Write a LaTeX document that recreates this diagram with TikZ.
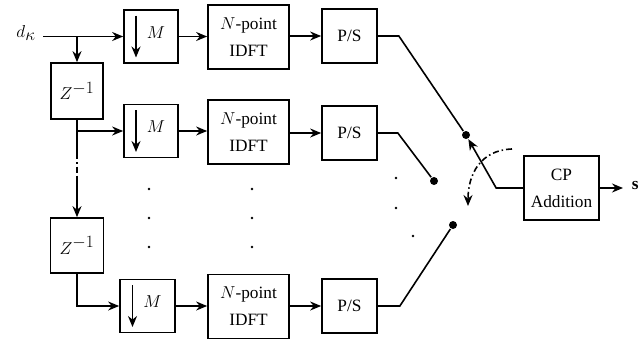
\documentclass[tikz,border=0pt]{standalone}
\usepackage{fontspec}
\setmainfont{Liberation Serif}
\DeclareMathSizes{17.28}{17.28}{17.28}{14.4}
\usetikzlibrary{arrows.meta,calc}
\begin{document}
\begin{tikzpicture}[x=1pt,y=-1pt,
 every node/.style={font=\fontsize{17.28}{27}\selectfont},
 blk/.style={draw,line width=1.7pt,inner sep=0pt,align=center},
 arr/.style={-{Stealth[length=11pt,width=9pt]}},
 sw/.style={circle,fill,inner sep=0pt,minimum size=8pt},
 vdot/.style={circle,fill,inner sep=0pt,minimum size=2.8pt},
 dashdot/.style={dash pattern=on 6pt off 3pt on 1.5pt off 3pt},
 line width=1.6pt]
\useasboundingbox (0,0) rectangle (644,341);
% boxes
\node[blk,minimum width=54,minimum height=53] (m1) at (151,36.5) {};
\node[blk,minimum width=54,minimum height=53] (m2) at (151,131) {};
\node[blk,minimum width=55,minimum height=53] (m3) at (147.5,306) {};
\node[blk,minimum width=81,minimum height=64] (idft1) at (248.5,37) {$N$-point\\IDFT};
\node[blk,minimum width=81,minimum height=64] (idft2) at (248.5,132) {$N$-point\\IDFT};
\node[blk,minimum width=81,minimum height=64] (idft3) at (248.5,306.5) {$N$-point\\IDFT};
\node[blk,minimum width=55,minimum height=54] (ps1) at (349.5,36) {P/S};
\node[blk,minimum width=55,minimum height=54] (ps2) at (349.5,133) {P/S};
\node[blk,minimum width=55,minimum height=54] (ps3) at (349.5,306) {P/S};
\node[blk,minimum width=52,minimum height=56] (z1) at (77,91) {$Z^{-1}$};
\node[blk,minimum width=53,minimum height=55] (z2) at (77,245.5) {$Z^{-1}$};
\node[blk,minimum width=75,minimum height=64] (cp) at (561.5,188) {CP\\Addition};
% M labels and down arrows
\foreach \b in {m1,m2,m3}{
  \node (\b lab) at ($(\b.center)+(5,-4)$) {$M$};
  \draw[arr] ($(\b.center)+(-15,-21)$) -- ($(\b.center)+(-15,21)$);
}
% input
\node (din) at (26,33) {$d_\kappa$};
\coordinate (b1) at (77,36.5);
\coordinate (b2) at (77,131);
\coordinate (c1) at (77,153);
\coordinate (c2) at (77,177);
\draw[arr] (43,36.5) -- (m1.west);
\draw[arr] (b1) -- (z1.north);
\draw (z1.south) -- (b2);
\draw[arr] (b2) -- (m2.west);
\draw (b2) -- (c1);
\draw[dashdot] (c1) -- (c2);
\draw[arr] (c2) -- (z2.north);
\draw[arr] (z2.south) |- (m3.west);
% row arrows
\draw[arr] (m1) -- (idft1.west |- m1);
\draw[arr] (idft1.east |- ps1) -- (ps1);
\draw[arr] (m2) -- (idft2.west |- m2);
\draw[arr] (idft2.east |- ps2) -- (ps2);
\draw[arr] (m3) -- (idft3.west |- m3);
\draw[arr] (idft3.east |- ps3) -- (ps3);
% switch contacts
\node[sw] (sw1) at (466,135) {};
\node[sw] (sw2) at (434,181) {};
\node[sw] (sw3) at (453,225) {};
\draw (ps1.east) -- ++(21,0) -- (sw1);
\draw (ps2.east) -- ++(20,0) -- (sw2);
\draw (ps3.east) -- ++(22,0) -- (sw3);
\draw[arr] (cp.west) -- ++(-27,0) -- (sw1);
% rotation arc
\coordinate (a1) at (512,149);
\coordinate (a2) at (468,206);
\draw[arr,dashdot] (a1) .. controls (480,150) and (468,175) .. (a2);
% output
\node[inner sep=0pt,anchor=west] (s) at (631,186) {$\mathbf{s}$};
\coordinate (sout) at (623,188);
\draw[arr] (cp.east) -- (sout);
% ellipsis dots
\foreach \x/\n in {149/a,252/b}{
  \foreach \y/\k in {189/1,218/2,247/3}{
    \node[vdot] (d\n\k) at (\x,\y) {};
  }
}
\node[vdot] (dc1) at (396,178) {};
\node[vdot] (dc2) at (396,208) {};
\node[vdot] (dc3) at (413,236) {};
\end{tikzpicture}
\end{document}
